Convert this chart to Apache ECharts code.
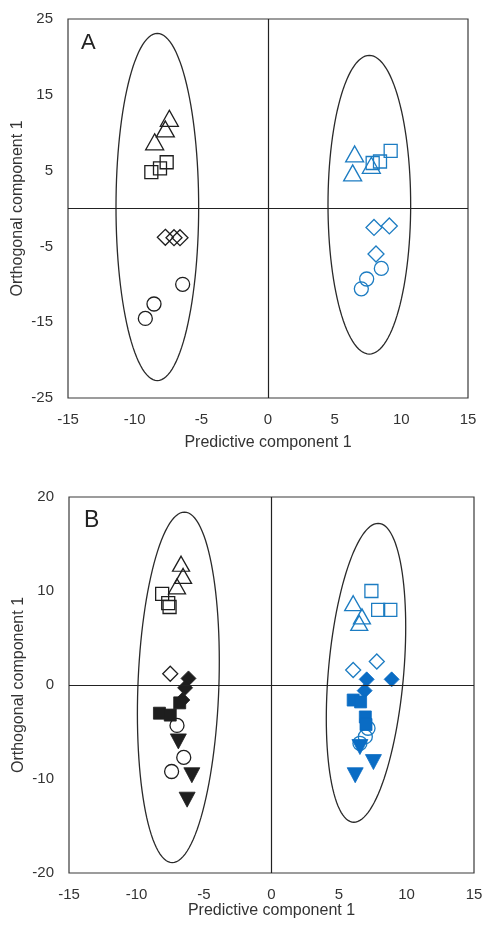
<!DOCTYPE html>
<html>
<head>
<meta charset="utf-8">
<script src="https://cdn.jsdelivr.net/npm/echarts@6/dist/echarts.min.js"></script>
<style>
  html, body { margin: 0; padding: 0; background: #ffffff; }
  #chart { width: 484px; height: 925px; }
</style>
</head>
<body>
<div id="chart"></div>
<script>
// ---- Panel A: OPLS-DA scores ----
const aBlackTriangle = [[-7.4, 11.9], [-7.7, 10.5], [-8.5, 8.8]];
const aBlackSquare   = [[-8.75, 4.8], [-8.1, 5.3], [-7.6, 6.1]];
const aBlackDiamond  = [[-7.7, -3.8], [-7.05, -3.85], [-6.6, -3.85]];
const aBlackCircle   = [[-6.4, -10.0], [-8.55, -12.6], [-9.2, -14.5]];
const aBlueTriangle  = [[6.5, 7.2], [6.35, 4.7], [7.75, 5.7]];
const aBlueSquare    = [[9.2, 7.6], [8.4, 6.2], [7.85, 6.0]];
const aBlueDiamond   = [[9.1, -2.3], [7.95, -2.5], [8.1, -6.0]];
const aBlueCircle    = [[8.5, -7.9], [7.4, -9.3], [7.0, -10.6]];
// confidence ellipses: [centerX, centerY, halfWidth, topShiftX, halfHeight]
const aEllipses = [[-8.3, 0.2, 3.1, 0, 22.9], [7.6, 0.5, 3.1, 0, 19.7]];

// ---- Panel B: OPLS-DA scores ----
const bBlackTriangleOpen  = [[-6.7, 12.9], [-6.55, 11.6], [-7.0, 10.5]];
const bBlackSquareOpen    = [[-8.1, 9.7], [-7.65, 8.7], [-7.55, 8.3]];
const bBlackDiamondOpen   = [[-7.5, 1.2]];
const bBlackCircleOpen    = [[-7.0, -4.3], [-6.5, -7.7], [-7.4, -9.2]];
const bBlackDiamondFilled = [[-6.15, 0.7], [-6.4, -0.3], [-6.6, -1.6]];
const bBlackSquareFilled  = [[-8.3, -3.0], [-7.5, -3.2], [-6.8, -1.9]];
const bBlackTriangleDown  = [[-6.9, -6.0], [-5.9, -9.6], [-6.25, -12.2]];
const bBlueTriangleOpen   = [[6.05, 8.7], [6.7, 7.3], [6.5, 6.6]];
const bBlueSquareOpen     = [[7.4, 10.0], [7.9, 8.0], [8.8, 8.0]];
const bBlueDiamondOpen    = [[6.05, 1.6], [7.8, 2.5]];
const bBlueCircleOpen     = [[7.15, -4.6], [6.95, -5.5], [6.55, -6.2]];
const bBlueDiamondFilled  = [[8.9, 0.6], [7.05, 0.6], [6.9, -0.6]];
const bBlueSquareFilled   = [[6.05, -1.6], [6.6, -1.8], [6.95, -3.4], [7.0, -4.2]];
const bBlueTriangleDown   = [[6.55, -6.6], [7.55, -8.2], [6.2, -9.6]];
const bEllipses = [[-6.9, -0.25, 3.0, 0.45, 18.65], [7.0, 1.3, 2.8, 0.9, 15.9]];

const xTicks = { min: -15, max: 15, interval: 5 };
const yTicksA = { min: -25, max: 25, interval: 10 };
const yTicksB = { min: -20, max: 20, interval: 10 };

const BLACK = '#1e1e1e';
const BLUE_LINE = '#1c7cc2';
const BLUE_FILL = '#0a6cc4';
const TEXT = '#333333';
const FONT = '"Liberation Sans", Arial, sans-serif';

function ellipseSeries(gridIdx, data) {
  return {
    type: 'custom',
    xAxisIndex: gridIdx, yAxisIndex: gridIdx,
    silent: true, z: 1,
    data: data,
    renderItem: function (params, api) {
      const cx = api.value(0), cy = api.value(1);
      const ax = api.value(2), bx = api.value(3), by = api.value(4);
      const pts = [];
      const n = 120;
      for (let i = 0; i <= n; i++) {
        const t = (i / n) * Math.PI * 2;
        pts.push(api.coord([cx + ax * Math.cos(t) + bx * Math.sin(t), cy + by * Math.sin(t)]));
      }
      return {
        type: 'polyline',
        shape: { points: pts },
        style: { fill: null, stroke: '#2a2a2a', lineWidth: 1.3 }
      };
    }
  };
}

function scatter(gridIdx, data, symbol, size, color, filled, rotate) {
  return {
    type: 'scatter',
    xAxisIndex: gridIdx, yAxisIndex: gridIdx,
    data: data,
    symbol: symbol,
    symbolSize: size,
    symbolRotate: rotate || 0,
    z: 3,
    silent: true,
    itemStyle: filled
      ? { color: color, borderColor: color, borderWidth: 0.8, opacity: 1 }
      : { color: 'rgba(255,255,255,0)', borderColor: color, borderWidth: 1.3, opacity: 1 }
  };
}

function zeroLines(gridIdx) {
  return {
    type: 'scatter',
    xAxisIndex: gridIdx, yAxisIndex: gridIdx,
    data: [],
    silent: true, z: 2,
    markLine: {
      silent: true, symbol: 'none', animation: false,
      label: { show: false },
      lineStyle: { color: '#222', width: 1.2, type: 'solid' },
      data: [{ xAxis: 0 }, { yAxis: 0 }]
    }
  };
}

function xAxisCfg(gridIdx, nameGap) {
  return {
    gridIndex: gridIdx, type: 'value',
    min: xTicks.min, max: xTicks.max, interval: xTicks.interval,
    axisLine: { show: false }, axisTick: { show: false }, splitLine: { show: false },
    axisLabel: { fontSize: 15, color: TEXT, margin: 14, fontFamily: FONT },
    name: 'Predictive component 1', nameLocation: 'middle', nameGap: nameGap,
    nameMoveOverlap: false,
    nameTextStyle: { fontSize: 16, color: TEXT, fontFamily: FONT }
  };
}

function yAxisCfg(gridIdx, ticks) {
  return {
    gridIndex: gridIdx, type: 'value',
    min: ticks.min, max: ticks.max, interval: ticks.interval,
    axisLine: { show: false }, axisTick: { show: false }, splitLine: { show: false },
    axisLabel: { fontSize: 15, color: TEXT, margin: 15, fontFamily: FONT },
    name: 'Orthogonal component 1', nameLocation: 'middle', nameGap: 42,
    nameMoveOverlap: false,
    nameTextStyle: { fontSize: 16, color: TEXT, fontFamily: FONT }
  };
}

const chart = echarts.init(document.getElementById('chart'), null, { renderer: 'canvas' });
chart.setOption({
  animation: false,
  backgroundColor: '#ffffff',
  grid: [
    { left: 68, top: 19, width: 400, height: 379, show: true, borderColor: '#3a3a3a', borderWidth: 1.2, outerBoundsMode: 'none' },
    { left: 69, top: 497, width: 405, height: 376, show: true, borderColor: '#3a3a3a', borderWidth: 1.2, outerBoundsMode: 'none' }
  ],
  xAxis: [xAxisCfg(0, 37), xAxisCfg(1, 30)],
  yAxis: [yAxisCfg(0, yTicksA), yAxisCfg(1, yTicksB)],
  graphic: [
    { type: 'text', left: 81, top: 32, style: { text: 'A', fontSize: 22, fill: '#222', fontFamily: FONT } },
    { type: 'text', left: 84, top: 509, style: { text: 'B', fontSize: 23, fill: '#222', fontFamily: FONT } }
  ],
  series: [
    zeroLines(0), ellipseSeries(0, aEllipses),
    scatter(0, aBlackTriangle, 'triangle', [18, 16], BLACK, false),
    scatter(0, aBlackSquare, 'rect', [13, 13], BLACK, false),
    scatter(0, aBlackDiamond, 'diamond', [16, 16], BLACK, false),
    scatter(0, aBlackCircle, 'circle', 14, BLACK, false),
    scatter(0, aBlueTriangle, 'triangle', [18, 16], BLUE_LINE, false),
    scatter(0, aBlueSquare, 'rect', [13, 13], BLUE_LINE, false),
    scatter(0, aBlueDiamond, 'diamond', [16, 16], BLUE_LINE, false),
    scatter(0, aBlueCircle, 'circle', 14, BLUE_LINE, false),

    zeroLines(1), ellipseSeries(1, bEllipses),
    scatter(1, bBlackTriangleOpen, 'triangle', [17, 15], BLACK, false),
    scatter(1, bBlackSquareOpen, 'rect', [13, 13], BLACK, false),
    scatter(1, bBlackDiamondOpen, 'diamond', [15, 15], BLACK, false),
    scatter(1, bBlackCircleOpen, 'circle', 14, BLACK, false),
    scatter(1, bBlackDiamondFilled, 'diamond', [15, 15], BLACK, true),
    scatter(1, bBlackSquareFilled, 'rect', [12, 12], BLACK, true),
    scatter(1, bBlackTriangleDown, 'triangle', [16, 15], BLACK, true, 180),
    scatter(1, bBlueTriangleOpen, 'triangle', [17, 15], BLUE_LINE, false),
    scatter(1, bBlueSquareOpen, 'rect', [13, 13], BLUE_LINE, false),
    scatter(1, bBlueDiamondOpen, 'diamond', [15, 15], BLUE_LINE, false),
    scatter(1, bBlueCircleOpen, 'circle', 14, BLUE_LINE, false),
    scatter(1, bBlueDiamondFilled, 'diamond', [15, 15], BLUE_FILL, true),
    scatter(1, bBlueSquareFilled, 'rect', [12, 12], BLUE_FILL, true),
    scatter(1, bBlueTriangleDown, 'triangle', [16, 15], BLUE_FILL, true, 180)
  ]
});
</script>
</body>
</html>
